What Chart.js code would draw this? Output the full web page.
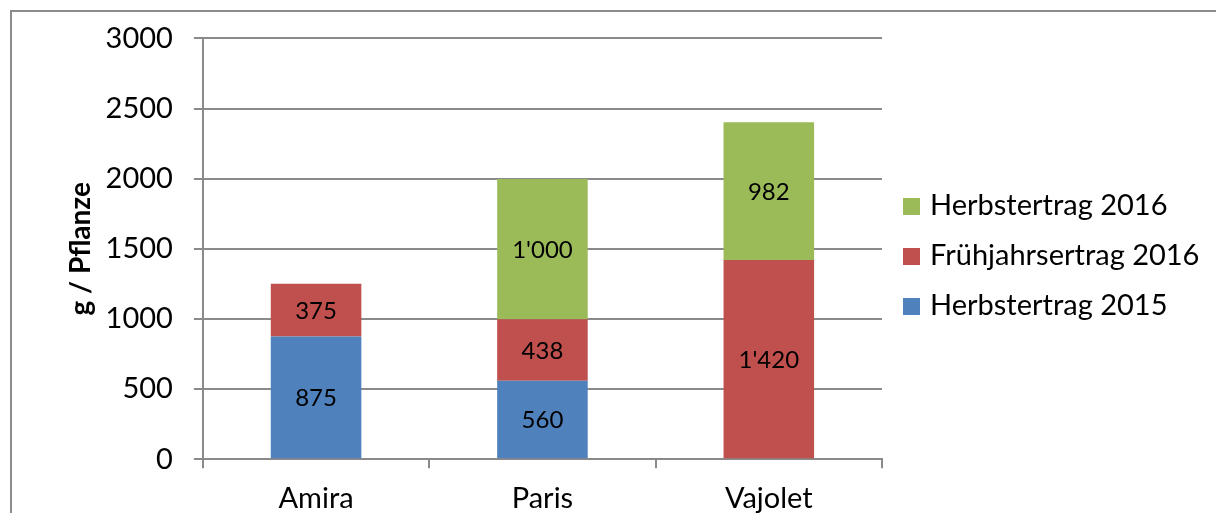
<!DOCTYPE html>
<html>
<head>
<meta charset="utf-8">
<script src="https://cdn.jsdelivr.net/npm/chart.js@4/dist/chart.umd.min.js"></script>
<style>
  html, body { margin: 0; padding: 0; background: #fff; overflow: hidden; }
  #wrap { position: relative; width: 1216px; height: 540px; }
  #legende {
    position: absolute; left: 903px; top: 184px;
    margin: 0; padding: 0; list-style: none;
    font: 29px Lato, "Open Sans", sans-serif; color: #000;
  }
  #legende li { height: 50px; line-height: 40px; white-space: nowrap; }
  #legende span {
    display: inline-block; width: 17px; height: 17px;
    margin-right: 10px; vertical-align: 0px;
  }
</style>
</head>
<body>
<div id="wrap">
  <canvas id="ertrag" width="1216" height="540"></canvas>
  <ul id="legende"></ul>
</div>
<script>
const sorten = ['Amira', 'Paris', 'Vajolet']
const herbst2015 = [875, 560, 0]
const fruehjahr2016 = [375, 438, 1420]
const herbst2016 = [0, 1000, 982]
const yTicks = [0, 500, 1000, 1500, 2000, 2500, 3000]

const grau = '#8a8a8a'
const schrift = 'Lato, "Open Sans", sans-serif'

// 1000 -> 1'000
const formatWert = v => String(v).replace(/\B(?=(\d{3})+(?!\d))/g, "'")

// frame around the whole chart (only top and left edge are inside the view)
const rahmen = {
    id: 'rahmen',
    beforeDraw(chart) {
        const ctx = chart.ctx
        ctx.save()
        ctx.strokeStyle = '#8c8c8c'
        ctx.lineWidth = 2
        ctx.strokeRect(11, 11, 3000, 3000)
        ctx.restore()
    }
}

// value labels in the middle of each segment
const wertLabels = {
    id: 'wertLabels',
    afterDatasetsDraw(chart) {
        const ctx = chart.ctx
        ctx.save()
        ctx.font = '24px ' + schrift
        ctx.fillStyle = '#000'
        ctx.textAlign = 'center'
        ctx.textBaseline = 'middle'
        chart.data.datasets.forEach((ds, i) => {
            chart.getDatasetMeta(i).data.forEach((bar, j) => {
                const v = ds.data[j]
                if (!v) return
                ctx.fillText(formatWert(v), bar.x, (bar.y + bar.base) / 2 + 1)
            })
        })
        ctx.restore()
    }
}

const data = {
    labels: sorten,
    datasets: [
        { label: 'Herbstertrag 2015', data: herbst2015, backgroundColor: '#4f81bd' },
        { label: 'Frühjahrsertrag 2016', data: fruehjahr2016, backgroundColor: '#c0504d' },
        { label: 'Herbstertrag 2016', data: herbst2016, backgroundColor: '#9bbb59' }
    ]
}

const config = {
    type: 'bar',
    data,
    options: {
        responsive: false,
        animation: false,
        devicePixelRatio: 1,
        barPercentage: 0.4,
        categoryPercentage: 1,
        layout: { padding: { left: 64, right: 334, top: 34, bottom: 11 } },
        scales: {
            x: {
                stacked: true,
                offset: true,
                grid: {
                    offset: true,
                    drawOnChartArea: false,
                    drawTicks: true,
                    tickLength: 9,
                    color: grau,
                    lineWidth: 2
                },
                border: { display: true, color: grau, width: 2 },
                ticks: { color: '#000', font: { family: schrift, size: 29 }, padding: 13 }
            },
            y: {
                stacked: true,
                min: 0,
                max: 3000,
                afterBuildTicks(axis) {
                    axis.ticks = yTicks.map(v => ({ value: v }))
                },
                grid: { color: grau, lineWidth: 2, tickLength: 9 },
                border: { display: true, color: grau, width: 2 },
                ticks: {
                    color: '#000',
                    font: { family: schrift, size: 29 },
                    padding: 21,
                    callback: v => String(v)
                },
                title: {
                    display: true,
                    text: 'g / Pflanze',
                    color: '#000',
                    font: { family: schrift, size: 28, weight: 'bold' },
                    // pulls the tick labels closer to the title
                    padding: { top: 0, bottom: -13 }
                }
            }
        },
        plugins: {
            legend: { display: false },
            tooltip: { enabled: false }
        }
    },
    plugins: [rahmen, wertLabels]
}

Promise.all([
    document.fonts.load('29px Lato'),
    document.fonts.load('bold 28px Lato')
]).catch(() => {}).then(() => {
    const chart = new Chart(document.getElementById('ertrag'), config)

    // legend, top entry = top segment
    const liste = document.getElementById('legende')
    chart.data.datasets.slice().reverse().forEach(ds => {
        const li = document.createElement('li')
        const box = document.createElement('span')
        box.style.background = ds.backgroundColor
        li.appendChild(box)
        li.appendChild(document.createTextNode(ds.label))
        liste.appendChild(li)
    })
})
</script>
</body>
</html>
